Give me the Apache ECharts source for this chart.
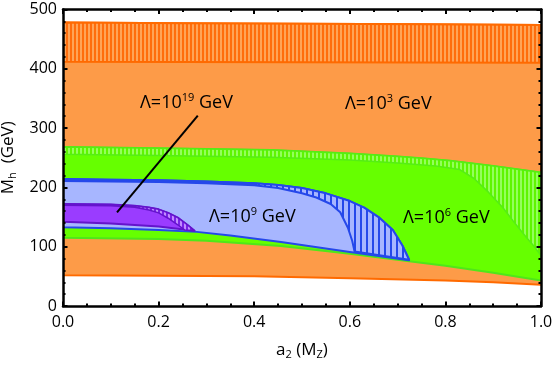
<!DOCTYPE html>
<html lang="en">
<head>
    <meta charset="UTF-8">
    <title>Mh vs a2</title>
    <script src="https://cdn.jsdelivr.net/npm/echarts@6/dist/echarts.min.js"></script>
    <style type="text/css">
        html, body {
            margin: 0;
            padding: 0;
            background: #ffffff;
        }

        #chart {
            width: 554px;
            height: 365px;
        }
    </style>
</head>
<body>
<div id="chart"></div>
<script type="text/javascript">
    // axis ticks
    const xTicks = [0, 0.2, 0.4, 0.6, 0.8, 1.0];
    const yTicks = [0, 100, 200, 300, 400, 500];

    // Lambda = 10^3 GeV (orange)
    const orangeTop = [[0, 478], [0.25, 477], [0.5, 476], [0.75, 475], [1, 474]];
    const orangeHatchBottom = [[0, 412], [0.5, 411], [1, 410]];
    const orangeBottom = [[0, 52], [0.2, 51], [0.4, 50], [0.6, 47], [0.8, 43], [0.9, 40], [1, 36]];

    // Lambda = 10^6 GeV (green)
    const greenTop = [[0, 268], [0.2, 266], [0.435, 263], [0.6, 257], [0.7, 252], [0.75, 249], [0.81, 245],
        [0.9, 236], [1, 225]];
    const greenSolidTop = [[0, 256], [0.2, 254], [0.435, 251], [0.6, 246], [0.7, 241], [0.78, 236], [0.83, 230],
        [0.86, 215], [0.89, 192], [0.92, 166], [0.944, 141], [0.97, 115], [0.985, 101], [1, 85]];
    const greenBottom = [[0, 115], [0.2, 113], [0.3, 110], [0.456, 101], [0.6, 88], [0.72, 76], [0.8, 68],
        [0.9, 56], [1, 43]];

    // Lambda = 10^9 GeV (blue)
    const blueTop = [[0, 214], [0.1, 213], [0.2, 212], [0.3, 210], [0.4, 207], [0.45, 204], [0.5, 199],
        [0.55, 190], [0.6, 177], [0.63, 166], [0.66, 150], [0.69, 128], [0.71, 102], [0.724, 78]];
    const blueSolidTop = [[0, 211], [0.2, 209], [0.3, 207], [0.4, 203.5], [0.45, 199], [0.5, 190], [0.53, 183],
        [0.56, 172], [0.58, 158], [0.596, 132], [0.605, 110], [0.61, 92]];
    const blueBottom = [[0, 133], [0.1, 131], [0.2, 128], [0.28, 125], [0.35, 119], [0.456, 108], [0.6, 91],
        [0.724, 77]];

    // Lambda = 10^19 GeV (purple)
    const purpleTop = [[0, 172], [0.1, 171], [0.15, 169], [0.18, 166], [0.2, 163], [0.22, 157], [0.24, 149],
        [0.26, 137], [0.275, 127]];
    const purpleSolidTop = [[0, 170], [0.1, 169], [0.15, 166.5], [0.18, 162], [0.2, 157], [0.22, 148],
        [0.24, 137], [0.255, 128]];
    const purpleBottom = [[0, 142], [0.1, 139], [0.2, 134], [0.275, 127]];

    // pointer for the 10^19 label
    const pointerLine = [[0.113, 158], [0.282, 321]];

    function stripes(bg, fg, period, width) {
        let c = document.createElement('canvas');
        c.width = period;
        c.height = 4;
        let ctx = c.getContext('2d');
        ctx.fillStyle = bg;
        ctx.fillRect(0, 0, period, 4);
        ctx.fillStyle = fg;
        ctx.fillRect(0, 0, width, 4);
        return {image: c, repeat: 'repeat'};
    }

    function band(upper, lower, fill, stroke, lineWidth) {
        let pts = upper.concat(lower.slice().reverse());
        return {
            type: 'custom',
            coordinateSystem: 'cartesian2d',
            silent: true,
            clip: true,
            z: 2,
            data: pts,
            renderItem: (params, api) => {
                if (params.dataIndex !== 0) return;
                let coords = pts.map(p => api.coord(p));
                return {
                    type: 'polygon',
                    shape: {points: coords},
                    style: {fill: fill, stroke: stroke, lineWidth: lineWidth, lineJoin: 'round'}
                };
            }
        };
    }

    const font = '"Open Sans", "Noto Sans", sans-serif';
    const tickStyle = {show: true, inside: true, length: 4.5, lineStyle: {color: '#000', width: 2}};
    const minorStyle = {show: true, length: 2.5, lineStyle: {color: '#000', width: 2}};
    const lineStyle = {show: true, onZero: false, lineStyle: {color: '#000', width: 2.5}};

    function labelText(exp, left, top) {
        return {
            type: 'text',
            left: left,
            top: top,
            z: 100,
            style: {
                text: '{a|Λ=10}{s|' + exp + '}{a| GeV}',
                rich: {
                    a: {fontSize: 18, fontFamily: font, color: '#111', lineHeight: 22, verticalAlign: 'middle'},
                    s: {fontSize: 11, fontFamily: font, color: '#111', lineHeight: 12, verticalAlign: 'top'}
                }
            }
        };
    }

    const chart = echarts.init(document.getElementById('chart'), null, {renderer: 'canvas'});
    const option = {
        animation: false,
        backgroundColor: '#ffffff',
        grid: {left: 63, right: 13, top: 9.5, bottom: 59, containLabel: false, outerBoundsMode: 'none'},
        xAxis: [{
            type: 'value', min: 0, max: 1, interval: 0.2, z: 20,
            axisLine: lineStyle, axisTick: tickStyle,
            minorTick: Object.assign({splitNumber: 4}, minorStyle),
            splitLine: {show: false},
            axisLabel: {
                fontSize: 16, fontFamily: font, color: '#000', margin: 8,
                formatter: v => xTicks.indexOf(Math.round(v * 10) / 10) >= 0 ? v.toFixed(1) : ''
            },
            name: '{a|a}{b|2}{a| (M}{b|Z}{a|)}',
            nameLocation: 'middle',
            nameGap: 34,
            nameTextStyle: {
                rich: {
                    a: {fontSize: 17, fontFamily: font, color: '#000', lineHeight: 20, verticalAlign: 'middle'},
                    b: {fontSize: 11, fontFamily: font, color: '#000', lineHeight: 10, verticalAlign: 'bottom'}
                }
            }
        }, {
            type: 'value', min: 0, max: 1, interval: 0.2, position: 'top', z: 20,
            axisLine: lineStyle, axisTick: tickStyle,
            minorTick: Object.assign({splitNumber: 4}, minorStyle),
            splitLine: {show: false}, axisLabel: {show: false}
        }],
        yAxis: [{
            type: 'value', min: 0, max: 500, interval: 100, z: 20,
            axisLine: lineStyle, axisTick: tickStyle,
            minorTick: Object.assign({splitNumber: 5}, minorStyle),
            splitLine: {show: false},
            axisLabel: {
                fontSize: 16, fontFamily: font, color: '#000', margin: 6,
                formatter: v => yTicks.indexOf(v) >= 0 ? String(v) : ''
            },
            name: '{a|M}{b|h}{a|  (GeV)}',
            nameLocation: 'middle',
            nameRotate: 90,
            nameGap: 38,
            nameTextStyle: {
                rich: {
                    a: {fontSize: 17, fontFamily: font, color: '#000', lineHeight: 20, verticalAlign: 'middle'},
                    b: {fontSize: 11, fontFamily: font, color: '#000', lineHeight: 10, verticalAlign: 'bottom'}
                }
            }
        }, {
            type: 'value', min: 0, max: 500, interval: 100, position: 'right', z: 20,
            axisLine: lineStyle, axisTick: tickStyle,
            minorTick: Object.assign({splitNumber: 5}, minorStyle),
            splitLine: {show: false}, axisLabel: {show: false}
        }],
        graphic: [
            labelText('19', 140, 92),
            labelText('3', 345, 93),
            labelText('9', 209, 206),
            labelText('6', 403, 207)
        ],
        series: [
            band(orangeTop, orangeBottom, '#fd9b48', '#ff6a00', 2),
            band(orangeTop, orangeHatchBottom, stripes('#ff6d0c', '#ffa457', 4, 2), '#ff6a00', 2),
            band(greenTop, greenBottom, '#66ff00', '#4fe61a', 2),
            band(greenTop, greenSolidTop, stripes('#5ef500', '#94ff5c', 4, 2), '#55ee14', 1.5),
            band(blueTop, blueBottom, '#a7b6ff', '#2548ea', 2),
            band(blueTop, blueSolidTop, stripes('#a7b6ff', '#2548ea', 6, 2), '#2548ea', 2),
            band(purpleTop, purpleBottom, '#9a3cff', '#6414cc', 2),
            band(purpleTop, purpleSolidTop, stripes('#7a22e6', '#c28cff', 4, 2), '#6414cc', 1.5),
            {
                type: 'line',
                data: pointerLine,
                symbol: 'none',
                silent: true,
                z: 50,
                lineStyle: {color: '#000', width: 2}
            }
        ]
    };
    chart.setOption(option);
</script>
</body>
</html>
